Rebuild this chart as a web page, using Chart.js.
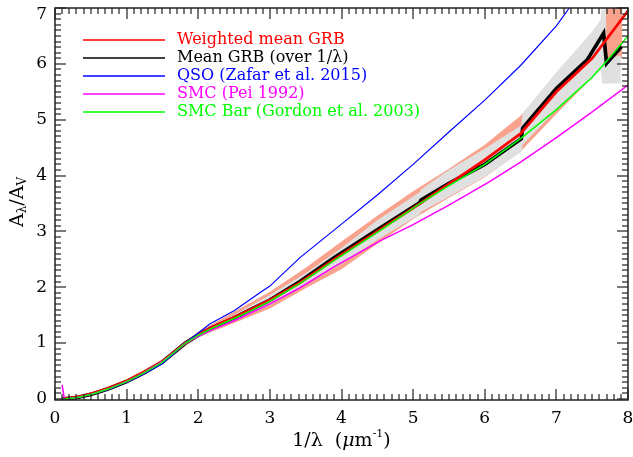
<!DOCTYPE html>
<html>
<head>
<meta charset="utf-8">
<script src="https://cdn.jsdelivr.net/npm/chart.js@4.4.1/dist/chart.umd.min.js"></script>
<style>
  html, body { margin: 0; padding: 0; background: #fff; }
</style>
</head>
<body>
<canvas id="extChart" width="633" height="457"></canvas>
<script>
// tick labels
const xTicks = [0, 1, 2, 3, 4, 5, 6, 7, 8];
const yTicks = [0, 1, 2, 3, 4, 5, 6, 7];

// SMC Bar (Gordon et al. 2003)
const smcBarX = [0.1, 0.3, 0.5, 0.75, 1.0, 1.25, 1.5, 1.82, 2.0, 2.2, 2.5, 2.75, 3.0, 3.42, 3.9, 4.5, 5.1, 5.5, 6.0, 6.5, 7.0, 7.5, 7.75, 8.0];
const smcBarY = [0.0, 0.02, 0.08, 0.18, 0.31, 0.47, 0.66, 1.0, 1.14, 1.27, 1.44, 1.59, 1.75, 2.07, 2.48, 2.98, 3.5, 3.82, 4.2, 4.66, 5.18, 5.76, 6.12, 6.5];

// SMC (Pei 1992)
const peiX = [0.1, 0.13, 0.3, 0.5, 0.75, 1.0, 1.25, 1.5, 1.82, 2.0, 2.2, 2.5, 3.0, 3.42, 3.9, 4.54, 5.0, 5.5, 6.08, 6.5, 7.0, 7.5, 8.0];
const peiY = [0.25, 0.0, 0.02, 0.08, 0.18, 0.31, 0.47, 0.67, 1.0, 1.12, 1.24, 1.4, 1.7, 1.99, 2.37, 2.83, 3.12, 3.47, 3.9, 4.24, 4.68, 5.14, 5.62];

// QSO (Zafar et al. 2015)
const qsoX = [0.1, 0.3, 0.5, 0.75, 1.0, 1.25, 1.5, 1.82, 2.0, 2.16, 2.5, 2.86, 3.0, 3.42, 4.0, 4.5, 5.0, 5.5, 6.0, 6.5, 7.0, 7.18];
const qsoY = [0.0, 0.02, 0.08, 0.17, 0.3, 0.45, 0.63, 1.0, 1.18, 1.34, 1.58, 1.9, 2.02, 2.53, 3.13, 3.65, 4.2, 4.78, 5.35, 5.97, 6.68, 7.0];

// weighted mean GRB
const wmeanX = [0.1, 0.3, 0.5, 0.75, 1.0, 1.25, 1.5, 1.82, 2.0, 2.2, 2.5, 2.75, 3.0, 3.42, 3.9, 4.5, 5.1, 5.5, 6.0, 6.5, 7.0, 7.5, 8.0];
const wmeanY = [0.0, 0.03, 0.09, 0.19, 0.32, 0.48, 0.67, 1.0, 1.15, 1.29, 1.46, 1.61, 1.77, 2.08, 2.5, 3.0, 3.5, 3.85, 4.28, 4.75, 5.5, 6.1, 6.95];

// mean GRB (over 1/lambda)
const meanX = [0.1, 0.3, 0.5, 0.75, 1.0, 1.25, 1.5, 1.82, 2.0, 2.2, 2.5, 2.75, 3.0, 3.42, 3.9, 4.5, 5.09, 5.11, 5.5, 6.0, 6.51, 6.53, 7.0, 7.43, 7.66, 7.70, 7.91];
const meanY = [0.0, 0.02, 0.08, 0.18, 0.31, 0.47, 0.66, 1.0, 1.14, 1.28, 1.45, 1.61, 1.77, 2.1, 2.53, 3.03, 3.51, 3.56, 3.86, 4.2, 4.66, 4.85, 5.56, 6.07, 6.55, 6.01, 6.31];

// grey band round the mean
const greyX = [0.1, 0.5, 1, 1.5, 2, 2.5, 3, 3.5, 4, 4.5, 5.09, 5.11, 5.5, 6.0, 6.51, 6.53, 7.0, 7.5, 7.62, 7.64, 7.69, 7.7, 7.9];
const greyLo = [0, 0.06, 0.28, 0.63, 1.1, 1.4, 1.68, 2.05, 2.42, 2.85, 3.3, 3.35, 3.62, 3.98, 4.42, 4.55, 5.18, 5.75, 5.88, 5.65, 5.65, 5.65, 5.65];
const greyHi = [0.02, 0.1, 0.34, 0.69, 1.18, 1.5, 1.86, 2.25, 2.7, 3.2, 3.7, 3.75, 4.1, 4.48, 4.9, 5.12, 5.85, 6.58, 6.8, 7.1, 7.1, 6.1, 6.15];

// salmon band round the weighted mean
const bandX = [0.1, 0.5, 1, 1.5, 2, 2.5, 3, 3.5, 4, 4.5, 5, 5.5, 6, 6.5, 7, 7.5, 7.68, 7.7, 7.92];
const bandLo = [0, 0.07, 0.29, 0.63, 1.1, 1.36, 1.62, 1.98, 2.32, 2.78, 3.22, 3.6, 3.97, 4.43, 5.1, 5.75, 6.0, 6.08, 6.1];
const bandHi = [0.02, 0.11, 0.35, 0.71, 1.2, 1.56, 1.92, 2.35, 2.82, 3.28, 3.72, 4.12, 4.55, 5.07, 5.8, 6.45, 6.7, 7.1, 7.1];

const legendLabels = ['Weighted mean GRB', 'Mean GRB (over 1/\u03bb)', 'QSO (Zafar et al. 2015)', 'SMC (Pei 1992)', 'SMC Bar (Gordon et al. 2003)'];
const legendColors = ['#ff0000', '#000000', '#0000ff', '#ff00ff', '#00ff00'];

const SERIF = "'DejaVu Serif', serif";

function pts(xs, ys) {
  return xs.map((x, i) => ({ x: x, y: ys[i] }));
}

function curve(label, xs, ys, color, width) {
  return {
    label: label, data: pts(xs, ys),
    borderColor: color, borderWidth: width,
    pointRadius: 0, fill: false, tension: 0
  };
}

function band(xs, ys, color, target) {
  return {
    data: pts(xs, ys),
    borderWidth: 0, borderColor: 'rgba(0,0,0,0)',
    backgroundColor: color, pointRadius: 0,
    fill: target, tension: 0
  };
}

function drawParts(ctx, parts, cx, cy) {
  let total = 0;
  parts.forEach(p => { ctx.font = p[1] + SERIF; total += ctx.measureText(p[0]).width; });
  let px = cx - total / 2;
  ctx.textAlign = 'left';
  ctx.textBaseline = 'middle';
  parts.forEach(p => {
    ctx.font = p[1] + SERIF;
    ctx.fillText(p[0], px, cy + p[2]);
    px += ctx.measureText(p[0]).width;
  });
}

// frame with IDL style ticks on all four sides, legend and axis titles
const framePlugin = {
  id: 'frame',
  afterDraw(chart) {
    const ctx = chart.ctx;
    const a = chart.chartArea;
    const sx = chart.scales.x;
    const sy = chart.scales.y;
    const w = a.right - a.left;
    const h = a.bottom - a.top;
    ctx.save();
    ctx.setLineDash([]);
    ctx.strokeStyle = '#222';
    ctx.fillStyle = '#222';
    ctx.lineWidth = 1.5;
    ctx.strokeRect(a.left, a.top, w, h);
    for (let i = 0; i <= 80; i++) {
      const v = i / 10;
      const px = Math.round(a.left + (v - sx.min) / (sx.max - sx.min) * w);
      const len = i % 10 === 0 ? 11 : 6;
      ctx.fillRect(px - 0.6, a.bottom - len, 1.2, len);
      ctx.fillRect(px - 0.6, a.top, 1.2, len);
    }
    for (let i = 0; i <= 70; i++) {
      const v = i / 10;
      const py = Math.round(a.bottom - (v - sy.min) / (sy.max - sy.min) * h);
      const len = i % 10 === 0 ? 11 : 6;
      ctx.fillRect(a.left, py - 0.6, len, 1.2);
      ctx.fillRect(a.right - len, py - 0.6, len, 1.2);
    }

    // legend inside the plot
    ctx.textBaseline = 'middle';
    ctx.textAlign = 'left';
    ctx.font = '16px ' + SERIF;
    legendLabels.forEach((t, i) => {
      const ly = 40 + i * 18;
      ctx.strokeStyle = legendColors[i];
      ctx.lineWidth = 1.5;
      ctx.beginPath();
      ctx.moveTo(83, ly); ctx.lineTo(165, ly);
      ctx.stroke();
      ctx.fillStyle = legendColors[i];
      ctx.fillText(t, 177, ly);
    });

    // axis titles
    ctx.fillStyle = '#000';
    const xParts = [['1/\u03bb  (', '19px '], ['\u03bc', 'italic 19px '], ['m', '19px '], ['-1', '11px ', -7], [')', '19px ']]
      .map(p => [p[0], p[1], p[2] || 0]);
    drawParts(ctx, xParts, (a.left + a.right) / 2, 441);
    ctx.translate(18, 202);
    ctx.rotate(-Math.PI / 2);
    const yParts = [['A', '19px ', 0], ['\u03bb', '12px ', 5], ['/A', '19px ', 0], ['V', '12px ', 5]];
    drawParts(ctx, yParts, 0, 0);
    ctx.restore();
  }
};

new Chart(document.getElementById('extChart'), {
  type: 'line',
  data: {
    datasets: [
      curve('SMC Bar (Gordon et al. 2003)', smcBarX, smcBarY, '#00ff00', 1.5),
      curve('SMC (Pei 1992)', peiX, peiY, '#ff00ff', 1.5),
      curve('QSO (Zafar et al. 2015)', qsoX, qsoY, '#0000ff', 1.2),
      curve('Weighted mean GRB', wmeanX, wmeanY, '#ff0000', 2.7),
      curve('Mean GRB (over 1/\u03bb)', meanX, meanY, '#000000', 3.7),
      band(greyX, greyHi, '#e0e0e0', 6),
      band(greyX, greyLo, 'rgba(0,0,0,0)', false),
      band(bandX, bandHi, '#f9a38f', 8),
      band(bandX, bandLo, 'rgba(0,0,0,0)', false)
    ]
  },
  options: {
    responsive: false,
    animation: false,
    events: [],
    layout: { padding: { top: 8, right: 5, left: 0, bottom: 0 } },
    plugins: { legend: { display: false }, tooltip: { enabled: false } },
    scales: {
      x: {
        type: 'linear', min: 0, max: 8,
        grid: { display: false, drawTicks: false },
        border: { display: false },
        afterBuildTicks: s => { s.ticks = xTicks.map(v => ({ value: v })); },
        afterFit: s => { s.height = 57; s.paddingLeft = 0; s.paddingRight = 0; },
        ticks: { color: '#000', padding: 8, font: { family: SERIF, size: 17 } }
      },
      y: {
        type: 'linear', min: -0.02, max: 7,
        grid: { display: false, drawTicks: false },
        border: { display: false },
        afterBuildTicks: s => { s.ticks = yTicks.map(v => ({ value: v })); },
        afterFit: s => { s.width = 55; s.paddingTop = 0; s.paddingBottom = 0; },
        // the top label sits a little below its tick in the original
        ticks: {
          color: '#000', padding: 8, font: { family: SERIF, size: 17, lineHeight: 0.8 },
          callback: v => (v === 7 ? ['', '7'] : String(v))
        }
      }
    }
  },
  plugins: [framePlugin]
});
</script>
</body>
</html>
